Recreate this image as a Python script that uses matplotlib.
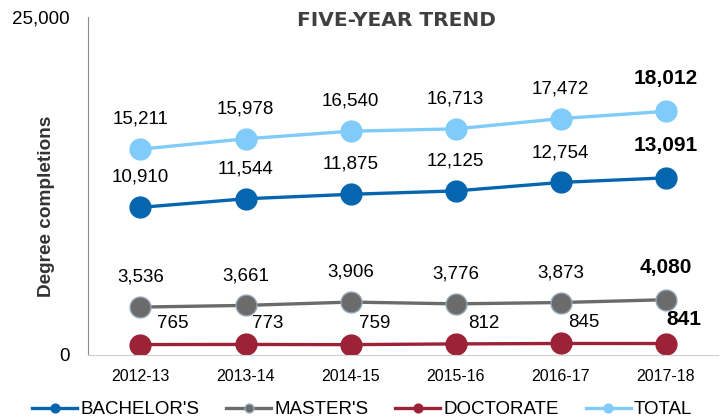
import numpy as np
import matplotlib.pyplot as plt

plt.rcParams['font.family'] = ['Liberation Sans', 'DejaVu Sans']

# Datos
years = ['2012-13', '2013-14', '2014-15', '2015-16', '2016-17', '2017-18']
bachelors = [10910, 11544, 11875, 12125, 12754, 13091]
masters = [3536, 3661, 3906, 3776, 3873, 4080]
doctorate = [765, 773, 759, 812, 845, 841]
total = [15211, 15978, 16540, 16713, 17472, 18012]

# nombre, valores, color, borde del marcador, desplazamiento x de etiquetas (pt), desplazamiento y (pt)
series = [
    ("BACHELOR'S", bachelors, '#0565AE', '#0565AE', [0, 0, 0, 0, 0, 0], 21.5),
    ("MASTER'S", masters, '#6B6B6B', '#93A6B8', [0, 0, 0, 0, 0, 0], 21.5),
    ("DOCTORATE", doctorate, '#9C2237', '#9C2237', [23, 16, 17, 20, 17, 13], 15),
    ("TOTAL", total, '#80CBF9', '#80CBF9', [0, 0, 0, 0, 0, 0], 21.5),
]

fig = plt.figure(figsize=(7.27, 4.2), dpi=100)
ax = fig.add_axes([0.121, 0.155, 0.867, 0.805])
x = np.arange(len(years))

for name, vals, col, edge, dxs, dy in series:
    ax.plot(x, vals, color=col, lw=2.4, marker='o', ms=15, mec=edge, mew=1,
            label=name)
    for i, v in enumerate(vals):
        last = i == len(vals) - 1
        ax.annotate(f'{v:,}', (x[i], v), xytext=(dxs[i], dy + (2 if last else 0)),
                    textcoords='offset points', ha='center', va='center',
                    fontsize=15 if last else 13.5,
                    fontweight='bold' if last else 'normal', color='black')

ax.set_xlim(-0.5, 5.5)
ax.set_ylim(0, 25000)
ax.set_xticks(x)
ax.set_xticklabels(years, fontsize=11.5)
ax.set_yticks([0, 25000])
ax.set_yticklabels(['0', '25,000'], fontsize=13.5)
ax.tick_params(axis='x', length=0, pad=10)
ax.tick_params(axis='y', length=0, pad=13)
ax.set_ylabel('Degree completions', fontsize=13.7, fontweight='bold', color='#333333')
ax.yaxis.set_label_coords(-0.053, 0.438)
ax.text(0.489, 0.99, 'FIVE-YEAR TREND', transform=ax.transAxes, ha='center', va='center',
        fontsize=14.5, fontweight='bold', color='#404040', family='DejaVu Sans')

for s in ['top', 'right']:
    ax.spines[s].set_visible(False)
ax.spines['left'].set_color('#8C8C8C')
ax.spines['bottom'].set_color('#D0D0D0')

leg = ax.legend(loc='center', bbox_to_anchor=(0.435, -0.162), ncol=4, frameon=False,
                fontsize=13.5, markerscale=0.42, handlelength=2.4, handletextpad=0.15,
                columnspacing=1.45, borderaxespad=0)

fig.savefig('out.png', dpi=100)
